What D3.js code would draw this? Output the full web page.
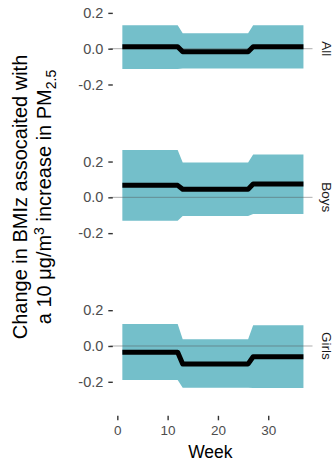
<!DOCTYPE html>
<html>
<head>
<meta charset="utf-8">
<script src="https://cdn.jsdelivr.net/npm/d3@7"></script>
<style>
  body { margin: 0; background: #fff; }
  svg { display: block; font-family: "Liberation Sans", Arial, Helvetica, sans-serif; }
</style>
</head>
<body>
<script>
// weeks where the estimate changes (weekly model, piecewise constant)
const weeks = [1, 12, 13, 26, 27, 37];
const groups = ["All", "Boys", "Girls"];

const estAll = [0.011, 0.011, -0.017, -0.017, 0.011, 0.011];
const lowAll = [-0.113, -0.113, -0.110, -0.110, -0.110, -0.110];
const upAll = [0.131, 0.131, 0.086, 0.086, 0.131, 0.131];

const estBoys = [0.067, 0.067, 0.045, 0.045, 0.074, 0.074];
const lowBoys = [-0.131, -0.131, -0.104, -0.104, -0.093, -0.093];
const upBoys = [0.264, 0.264, 0.195, 0.195, 0.240, 0.240];

const estGirls = [-0.035, -0.035, -0.100, -0.100, -0.060, -0.060];
const lowGirls = [-0.190, -0.190, -0.233, -0.233, -0.235, -0.235];
const upGirls = [0.123, 0.123, 0.037, 0.037, 0.116, 0.116];

const xTicks = [0, 10, 20, 30];
const yTicks = [-0.2, 0, 0.2];

const series = [
  {name: groups[0], est: estAll, low: lowAll, up: upAll},
  {name: groups[1], est: estBoys, low: lowBoys, up: upBoys},
  {name: groups[2], est: estGirls, low: lowGirls, up: upGirls}
];

const W = 335, H = 462;
const left = 113.3, right = 312.5;
const panelH = 118.5, panelStep = 148.65, panelTop0 = 0;

const svg = d3.select("body").append("svg")
  .attr("width", W)
  .attr("height", H);

const x = d3.scaleLinear()
  .domain([-0.8, 38.8])
  .range([left, right]);

const ribbonCol = "#74bfca";
const tickCol = "#333333";
const labCol = "#4d4d4d";

series.forEach((s, i) => {
  const top = panelTop0 + i * panelStep;
  const y = d3.scaleLinear()
    .domain([-0.39, 0.272])
    .range([top + panelH, top]);

  const pts = weeks.map((w, j) => ({w: w, est: s.est[j], low: s.low[j], up: s.up[j]}));
  const g = svg.append("g");

  g.append("path")
    .datum(pts)
    .attr("fill", ribbonCol)
    .attr("d", d3.area()
      .x(d => x(d.w))
      .y0(d => y(d.low))
      .y1(d => y(d.up)));

  g.append("line")
    .attr("x1", left - 3)
    .attr("x2", right)
    .attr("y1", y(0))
    .attr("y2", y(0))
    .attr("stroke", "#555")
    .attr("stroke-opacity", 0.6)
    .attr("stroke-width", 0.8);

  g.append("path")
    .datum(pts)
    .attr("fill", "none")
    .attr("stroke", "#000")
    .attr("stroke-width", 5)
    .attr("stroke-linejoin", "round")
    .attr("d", d3.line()
      .x(d => x(d.w))
      .y(d => y(d.est)));

  // y axis
  const ax = g.append("g")
    .attr("transform", "translate(" + (left - 0.5) + ",0)")
    .call(d3.axisLeft(y).tickValues(yTicks).tickSize(4.5).tickPadding(5));
  ax.select(".domain").remove();
  ax.selectAll(".tick line").attr("stroke", tickCol).attr("stroke-width", 1.4);
  ax.selectAll(".tick text")
    .attr("fill", labCol)
    .style("font-size", "14.5px")
    .style("font-family", "Liberation Sans, Arial, sans-serif")
    .text(d => d < 0 ? "-" + d3.format(".1f")(-d) : d3.format(".1f")(d));

  // strip label
  g.append("text")
    .attr("transform", "translate(321.5," + y(0) + ") rotate(90)")
    .attr("text-anchor", "middle")
    .attr("fill", "#1a1a1a")
    .style("font-size", "13.5px")
    .text(s.name);

  if (i === series.length - 1) {
    const xa = svg.append("g")
      .attr("transform", "translate(0," + (top + panelH) + ")")
      .call(d3.axisBottom(x).tickValues(xTicks).tickSize(4.5).tickPadding(5));
    xa.select(".domain").remove();
    xa.selectAll(".tick line").attr("stroke", tickCol).attr("stroke-width", 1.4);
    xa.selectAll(".tick text")
      .attr("fill", labCol)
      .style("font-size", "13.5px")
      .style("font-family", "Liberation Sans, Arial, sans-serif");
  }
});

// axis titles
svg.append("text")
  .attr("x", x(18.5))
  .attr("y", 457.5)
  .attr("text-anchor", "middle")
  .attr("fill", "#000")
  .style("font-size", "17.5px")
  .text("Week");

const yt = svg.append("text")
  .attr("transform", "translate(27,197) rotate(-90)")
  .attr("text-anchor", "middle")
  .attr("fill", "#000")
  .style("font-size", "20px");
yt.append("tspan")
  .attr("x", 0).attr("y", 0)
  .text("Change in BMIz assocaited with");
const l2 = yt.append("tspan")
  .attr("x", 0).attr("y", 24)
  .text("a 10 \u03bcg/m");
l2.append("tspan").attr("dy", -7).style("font-size", "14px").text("3");
l2.append("tspan").attr("dy", 7).text(" increase in PM");
l2.append("tspan").attr("dy", 5).style("font-size", "14px").text("2.5");
</script>
</body>
</html>
